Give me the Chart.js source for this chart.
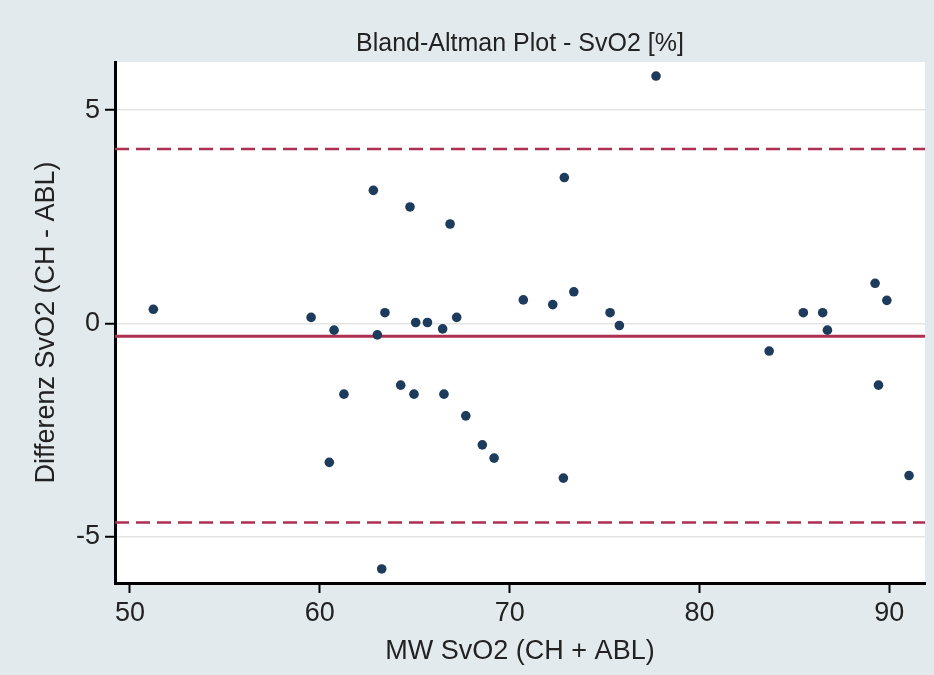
<!DOCTYPE html>
<html>
<head>
<meta charset="utf-8">
<script src="https://cdn.jsdelivr.net/npm/chart.js@4/dist/chart.umd.min.js"></script>
<style>
  html, body { margin: 0; padding: 0; background: #e3eaed; }
  #wrap { width: 934px; height: 675px; }
</style>
</head>
<body>
<div id="wrap"><canvas id="c" width="934" height="675"></canvas></div>
<script>
// Mean of both methods (x) and difference CH - ABL (y)
const meanValues = [51.23, 59.54, 60.75, 62.82, 63.03, 63.43, 61.27, 60.50, 63.26, 64.75,
                    66.86, 72.88, 65.05, 65.67, 66.47, 67.21, 70.72, 72.27, 73.38, 75.29,
                    75.78, 64.26, 64.96, 66.54, 67.69, 68.56, 69.18, 72.83, 77.71, 83.67,
                    85.47, 86.49, 86.74, 89.25, 89.87, 89.43, 91.04];
const diffValues = [0.33, 0.14, -0.16, 3.12, -0.27, 0.25, -1.66, -3.26, -5.76, 2.73,
                    2.33, 3.42, 0.02, 0.02, -0.13, 0.14, 0.55, 0.44, 0.74, 0.25,
                    -0.05, -1.45, -1.66, -1.66, -2.17, -2.85, -3.16, -3.63, 5.80, -0.65,
                    0.25, 0.25, -0.16, 0.94, 0.54, -1.45, -3.57];
const meanDiff = -0.30;
const upperLoA = 4.09;
const lowerLoA = -4.67;
const xTicks = [50, 60, 70, 80, 90];
const yTicks = [-5, 0, 5];
const xRange = [49.21, 91.88];
const yRange = [-6.09, 6.13];

const titleText = 'Bland-Altman Plot - SvO2 [%]';
const xTitle = 'MW SvO2 (CH + ABL)';
const yTitle = 'Differenz SvO2 (CH - ABL)';

const FONT = "'Liberation Sans', Arial, Helvetica, sans-serif";
const OUTER = '#e3eaed';
const LINE = '#ad2f52';
const DOT = '#1d3b5c';
const TEXT = '#222222';

Chart.defaults.font.family = FONT;

const points = meanValues.map((x, i) => ({ x: x, y: diffValues[i] }));
const hLine = (y) => [{ x: xRange[0], y: y }, { x: xRange[1], y: y }];

const bgPlugin = {
  id: 'bg',
  beforeDraw(chart) {
    const { ctx, chartArea: a } = chart;
    ctx.save();
    ctx.fillStyle = OUTER;
    ctx.fillRect(0, 0, chart.width, chart.height);
    ctx.fillStyle = '#ffffff';
    ctx.fillRect(a.left, a.top, a.right - a.left, a.bottom - a.top);
    ctx.restore();
  }
};

new Chart(document.getElementById('c'), {
  type: 'scatter',
  data: {
    datasets: [
      {
        label: 'Differenz',
        data: points,
        backgroundColor: DOT,
        borderColor: DOT,
        pointRadius: 4.8,
        pointBorderWidth: 0,
        order: 1
      },
      {
        type: 'line',
        label: 'Mittelwert',
        data: hLine(meanDiff),
        borderColor: LINE,
        borderWidth: 3,
        pointRadius: 0,
        fill: false,
        order: 2
      },
      {
        type: 'line',
        label: '+1.96 SD',
        data: hLine(upperLoA),
        borderColor: LINE,
        borderWidth: 2.6,
        borderDash: [14, 7],
        pointRadius: 0,
        fill: false,
        order: 2
      },
      {
        type: 'line',
        label: '-1.96 SD',
        data: hLine(lowerLoA),
        borderColor: LINE,
        borderWidth: 2.6,
        borderDash: [14, 7],
        pointRadius: 0,
        fill: false,
        order: 2
      }
    ]
  },
  options: {
    responsive: false,
    animation: false,
    devicePixelRatio: 1,
    layout: { padding: { left: 0, right: 9, top: 0, bottom: 0 } },
    plugins: {
      legend: { display: false },
      tooltip: { enabled: false },
      title: {
        display: true,
        fullSize: false,
        text: titleText,
        color: TEXT,
        font: { size: 25, weight: 'normal', lineHeight: 1.2 },
        padding: { top: 29, bottom: 3 }
      }
    },
    scales: {
      x: {
        type: 'linear',
        min: xRange[0],
        max: xRange[1],
        afterBuildTicks: (s) => { s.ticks = xTicks.map(v => ({ value: v })); },
        afterFit: (s) => { s.height = 92; },
        grid: { drawOnChartArea: false, drawTicks: true, tickLength: 10, tickColor: '#000', tickWidth: 2 },
        border: { display: true, color: '#000', width: 3 },
        ticks: { color: TEXT, font: { size: 27, lineHeight: 1.2 }, padding: 4, maxRotation: 0, autoSkip: false },
        title: { display: true, text: xTitle, color: TEXT, font: { size: 27, lineHeight: 1.2 }, padding: { top: 0, bottom: 7 } }
      },
      y: {
        type: 'linear',
        min: yRange[0],
        max: yRange[1],
        afterBuildTicks: (s) => { s.ticks = yTicks.map(v => ({ value: v })); },
        afterFit: (s) => { s.width = 115; },
        grid: { drawOnChartArea: true, color: '#e4e4e4', lineWidth: 1.5, drawTicks: true, tickLength: 10, tickColor: '#000', tickWidth: 2 },
        border: { display: true, color: '#000', width: 3 },
        ticks: { color: TEXT, font: { size: 27, lineHeight: 1.2 }, padding: 5, autoSkip: false },
        title: { display: true, text: yTitle, color: TEXT, font: { size: 27, lineHeight: 1.2 }, padding: { top: 30, bottom: 0 } }
      }
    }
  },
  plugins: [bgPlugin]
});
</script>
</body>
</html>
